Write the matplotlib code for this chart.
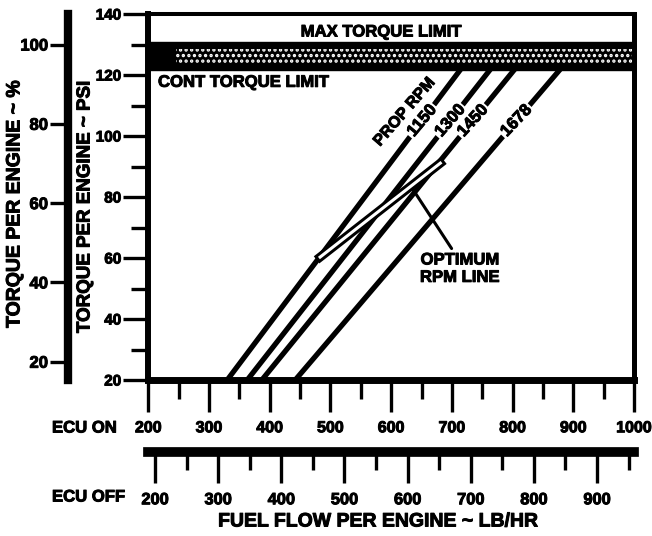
import numpy as np
import matplotlib
matplotlib.use("Agg")
import matplotlib.pyplot as plt
from matplotlib.patches import Rectangle
from matplotlib.text import Text
import matplotlib.patheffects as pe

plt.rcParams['font.family'] = ['Liberation Sans', 'DejaVu Sans']
plt.rcParams['font.weight'] = 'bold'
plt.rcParams['hatch.linewidth'] = 1.6

# Prop RPM lines: fuel flow (ECU on, lb/hr) at 20 psi and at the continuous limit
rpm_labels = ['1150', '1300', '1450', '1678']
flow_at_20psi = [330, 363, 387, 442]
flow_at_limit = [715, 764, 804, 879]
line_psi = [20, 122]

# Optimum RPM line (fuel flow, torque psi)
opt_flow = [483, 681]
opt_psi = [60.3, 91.1]

# Torque limits (psi)
cont_limit_psi = 121.5
max_limit_psi = 130.8

on_ticks = [200, 300, 400, 500, 600, 700, 800, 900, 1000]
off_ticks = [200, 300, 400, 500, 600, 700, 800, 900]
psi_ticks = [20, 40, 60, 80, 100, 120, 140]
pct_ticks = [20, 40, 60, 80, 100]


def on_to_off(x):
    return 200 + (np.asarray(x, dtype=float) - 211) / 1.04


def off_to_on(x):
    return 211 + 1.04 * (np.asarray(x, dtype=float) - 200)


def psi_to_pct(p):
    return np.asarray(p, dtype=float) / 1.3


def pct_to_psi(p):
    return np.asarray(p, dtype=float) * 1.3


W, H = 652, 536
fig = plt.figure(figsize=(W / 100, H / 100), dpi=100)
fig.patch.set_facecolor('white')

x0, x1, yb, yt = 148.3, 634.0, 380.0, 14.0
ax = fig.add_axes([x0 / W, 1 - yb / H, (x1 - x0) / W, (yb - yt) / H])
ax.set_xlim(200, 1000)
ax.set_ylim(20, 140)

ax.spines['left'].set_linewidth(4.3)
ax.spines['bottom'].set_linewidth(5.0)
ax.spines['right'].set_linewidth(3.6)
ax.spines['top'].set_linewidth(2.9)
for s in ax.spines.values():
    s.set_zorder(6)

# X axis (ECU on)
ax.set_xticks(on_ticks)
ax.set_xticks(np.arange(250, 1000, 100), minor=True)
ax.set_xticklabels([str(v) for v in on_ticks])
ax.tick_params(axis='x', which='major', direction='out', length=23, width=2.4,
               pad=6, labelsize=11.5)
ax.tick_params(axis='x', which='minor', direction='out', length=14, width=2.4)

# Y axis (psi)
ax.set_yticks(psi_ticks)
ax.set_yticks(np.arange(30, 140, 20), minor=True)
ax.set_yticklabels([str(v) for v in psi_ticks])
ax.tick_params(axis='y', which='major', direction='out', length=18, width=2.4,
               pad=1.5, labelsize=11)
ax.tick_params(axis='y', which='minor', direction='out', length=12, width=2.4)

# Torque limit band
ax.axhspan(cont_limit_psi, max_limit_psi, color='black', zorder=3)
ax.add_patch(Rectangle((245, 123.6), 760, 4.8, facecolor='black',
                       edgecolor='white', hatch='...', linewidth=0, zorder=4))
ax.text(583, 134.1, 'MAX TORQUE LIMIT', ha='center', va='center',
        fontsize=12, zorder=5)
ax.text(216, 117.6, 'CONT TORQUE LIMIT', ha='left', va='center',
        fontsize=12, zorder=5)

# RPM lines with inline labels
label_psi = 105
fig.canvas.draw()
for lab, f0, f1 in zip(rpm_labels, flow_at_20psi, flow_at_limit):
    ax.plot([f0, f1], line_psi, color='black', lw=3.8, solid_capstyle='butt',
            zorder=2)
    p0 = ax.transData.transform((f0, line_psi[0]))
    p1 = ax.transData.transform((f1, line_psi[1]))
    ang = np.degrees(np.arctan2(p1[1] - p0[1], p1[0] - p0[0]))
    fx = f0 + (f1 - f0) * (label_psi - line_psi[0]) / (line_psi[1] - line_psi[0])
    ax.text(fx, label_psi, lab, rotation=ang - 3, rotation_mode='anchor',
            ha='center', va='center', fontsize=12, zorder=5,
            bbox=dict(facecolor='white', edgecolor='none', pad=1.5))
    if lab == rpm_labels[0]:
        ax.text(622, 108.0, 'PROP RPM', rotation=ang - 4,
                rotation_mode='anchor', ha='center', va='center',
                fontsize=11.5, zorder=5)

# Optimum RPM line (outlined)
ax.plot(opt_flow, opt_psi, color='black', lw=1.4, zorder=3,
        path_effects=[pe.Stroke(linewidth=6.5, foreground='black'),
                      pe.Stroke(linewidth=2.2, foreground='white')])

ax.annotate('OPTIMUM\nRPM LINE', xy=(636.5, 82.3), xytext=(713, 56.5),
            ha='center', va='center', fontsize=12, linespacing=1.2,
            zorder=5,
            arrowprops=dict(arrowstyle='-', lw=2.2, color='black',
                            shrinkA=1, shrinkB=0, relpos=(0.43, 1.0)))

# Secondary scale: fuel flow with ECU off
loc_off = -(452 - yb) / (yb - yt)
sx = ax.secondary_xaxis(loc_off, functions=(on_to_off, off_to_on))
sx.set_xticks(off_ticks)
sx.set_xticks(np.arange(250, 1000, 100), minor=True)
sx.set_xticklabels([str(v) for v in off_ticks])
sx.spines['bottom'].set_linewidth(7)
sx.tick_params(axis='x', which='major', direction='out', length=22, width=2.4,
               pad=7, labelsize=11.8)
sx.tick_params(axis='x', which='minor', direction='out', length=13, width=2.4)

# Secondary scale: torque percent
loc_pct = -(x0 - 68) / (x1 - x0)
sy = ax.secondary_yaxis(loc_pct, functions=(psi_to_pct, pct_to_psi))
sy.set_yticks(pct_ticks)
sy.set_yticklabels([str(v) for v in pct_ticks])
sy.spines['left'].set_linewidth(6)
sy.tick_params(axis='y', which='major', direction='out', length=13, width=2.4,
               pad=1.5, labelsize=12)
sy.tick_params(axis='y', which='minor', left=False)

# Axis titles
fig.text(15 / W, 1 - 204 / H, 'TORQUE PER ENGINE ~ %', rotation=90,
         ha='center', va='center', fontsize=14)
fig.text(85 / W, 1 - 207 / H, 'TORQUE PER ENGINE ~ PSI', rotation=90,
         ha='center', va='center', fontsize=13.5)
fig.text(378 / W, 1 - 522 / H, 'FUEL FLOW PER ENGINE ~ LB/HR',
         ha='center', va='center', fontsize=14)
fig.text(52 / W, 1 - 428 / H, 'ECU ON', ha='left', va='center', fontsize=12)
fig.text(52 / W, 1 - 497 / H, 'ECU OFF', ha='left', va='center', fontsize=12)

# Heavier letterforms for all text
heavy = [pe.withStroke(linewidth=0.7, foreground='black')]
for t in fig.findobj(Text):
    t.set_path_effects(heavy)

fig.savefig('out.png', dpi=100, facecolor='white')
